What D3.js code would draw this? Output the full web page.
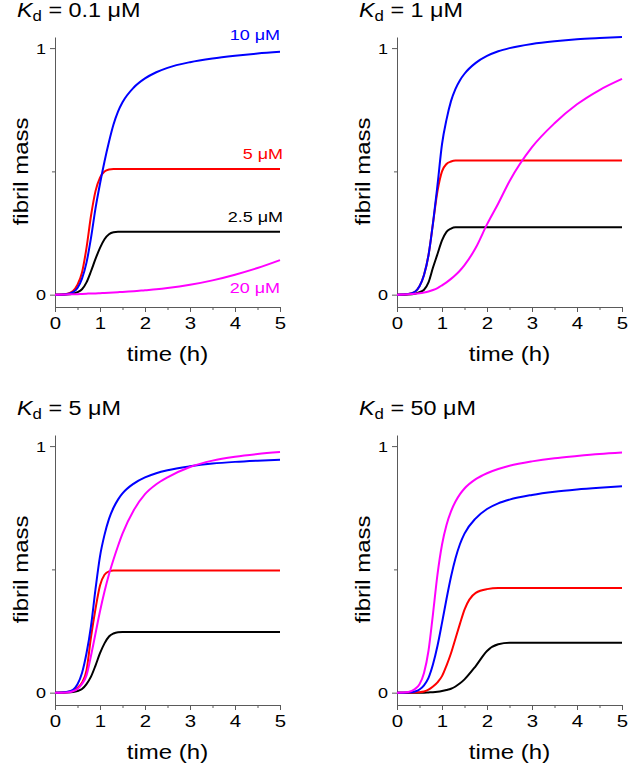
<!DOCTYPE html>
<html>
<head>
<meta charset="utf-8">
<script src="https://cdn.jsdelivr.net/npm/d3@7/dist/d3.min.js"></script>
<style>
  html, body { margin: 0; padding: 0; background: #fff; }
  svg { display: block; }
  text { font-family: "Liberation Sans", Arial, sans-serif; }
</style>
</head>
<body>
<svg id="chart" width="628" height="769"></svg>
<script>
// ---------------- data ----------------
const times = [0, 0.25, 0.4, 0.5, 0.6, 0.7, 0.8, 0.9, 1.0, 1.1, 1.2, 1.3, 1.4, 1.5, 1.75, 2, 2.25, 2.5, 3, 3.5, 4, 4.5, 5];

const concLabels = ["2.5 \u03BCM", "5 \u03BCM", "10 \u03BCM", "20 \u03BCM"];
const seriesColors = ["#000000", "#ff0000", "#0000ff", "#ff00ff"];
const kdTitles = ["0.1", "1", "5", "50"];

const xTicks = [0, 1, 2, 3, 4, 5];
const xMinorTicks = [0.5, 1.5, 2.5, 3.5, 4.5];
const yTicks = [0, 1];
const yMinorTicks = [0.5];

// Kd = 0.1 uM
const blackA = [0, 0.001, 0.004, 0.01, 0.022, 0.05, 0.095, 0.145, 0.19, 0.225, 0.245, 0.253, 0.255, 0.255, 0.255, 0.255, 0.255, 0.255, 0.255, 0.255, 0.255, 0.255, 0.255];
const redA   = [0, 0.003, 0.015, 0.04, 0.09, 0.19, 0.32, 0.42, 0.475, 0.5, 0.508, 0.51, 0.51, 0.51, 0.51, 0.51, 0.51, 0.51, 0.51, 0.51, 0.51, 0.51, 0.51];
const blueA  = [0, 0.002, 0.01, 0.027, 0.065, 0.13, 0.23, 0.35, 0.45, 0.54, 0.62, 0.69, 0.742, 0.78, 0.84, 0.877, 0.902, 0.92, 0.943, 0.958, 0.969, 0.978, 0.985];
const magA   = [0, 0.001, 0.002, 0.002, 0.003, 0.004, 0.005, 0.005, 0.006, 0.007, 0.008, 0.009, 0.01, 0.011, 0.014, 0.018, 0.022, 0.027, 0.04, 0.058, 0.081, 0.108, 0.14];

// Kd = 1 uM
const blackB = [0, 0.001, 0.004, 0.01, 0.02, 0.05, 0.11, 0.165, 0.22, 0.255, 0.268, 0.273, 0.273, 0.273, 0.273, 0.273, 0.273, 0.273, 0.273, 0.273, 0.273, 0.273, 0.273];
const redB   = [0, 0.003, 0.012, 0.034, 0.08, 0.16, 0.29, 0.42, 0.5, 0.53, 0.54, 0.544, 0.544, 0.544, 0.544, 0.544, 0.544, 0.544, 0.544, 0.544, 0.544, 0.544, 0.544];
const blueB  = [0, 0.003, 0.012, 0.034, 0.08, 0.16, 0.29, 0.445, 0.61, 0.71, 0.785, 0.835, 0.87, 0.896, 0.94, 0.968, 0.987, 1.0, 1.017, 1.028, 1.036, 1.041, 1.045];
const magB   = [0, 0.002, 0.004, 0.006, 0.009, 0.013, 0.019, 0.027, 0.038, 0.05, 0.064, 0.08, 0.098, 0.12, 0.19, 0.285, 0.37, 0.46, 0.598, 0.695, 0.772, 0.83, 0.875];

// Kd = 5 uM
const blackC = [0, 0.001, 0.003, 0.007, 0.015, 0.035, 0.065, 0.11, 0.16, 0.2, 0.228, 0.24, 0.245, 0.246, 0.246, 0.246, 0.246, 0.246, 0.246, 0.246, 0.246, 0.246, 0.246];
const redC   = [0, 0.002, 0.008, 0.02, 0.04, 0.09, 0.225, 0.34, 0.435, 0.478, 0.492, 0.495, 0.495, 0.495, 0.495, 0.495, 0.495, 0.495, 0.495, 0.495, 0.495, 0.495, 0.495];
const blueC  = [0, 0.003, 0.012, 0.034, 0.08, 0.16, 0.27, 0.42, 0.553, 0.64, 0.705, 0.75, 0.783, 0.808, 0.848, 0.873, 0.89, 0.902, 0.918, 0.929, 0.936, 0.941, 0.945];
const magC   = [0, 0.001, 0.006, 0.015, 0.035, 0.07, 0.15, 0.24, 0.33, 0.41, 0.48, 0.54, 0.595, 0.645, 0.74, 0.805, 0.845, 0.873, 0.915, 0.941, 0.957, 0.968, 0.976];

// Kd = 50 uM
const blackD = [0, 0, 0, 0, 0, 0.001, 0.002, 0.004, 0.007, 0.011, 0.016, 0.025, 0.038, 0.054, 0.108, 0.169, 0.196, 0.202, 0.202, 0.202, 0.202, 0.202, 0.202];
const redD   = [0, 0, 0.001, 0.002, 0.005, 0.012, 0.025, 0.042, 0.067, 0.11, 0.16, 0.22, 0.28, 0.337, 0.405, 0.42, 0.424, 0.424, 0.424, 0.424, 0.424, 0.424, 0.424];
const blueD  = [0, 0.001, 0.005, 0.013, 0.03, 0.06, 0.115, 0.19, 0.283, 0.38, 0.47, 0.545, 0.603, 0.645, 0.707, 0.745, 0.768, 0.783, 0.802, 0.815, 0.824, 0.831, 0.837];
const magD   = [0, 0.003, 0.015, 0.034, 0.08, 0.17, 0.32, 0.48, 0.6, 0.68, 0.735, 0.775, 0.805, 0.828, 0.866, 0.89, 0.907, 0.92, 0.938, 0.951, 0.96, 0.968, 0.974];

const panelSeries = [
  [blackA, redA, blueA, magA],
  [blackB, redB, blueB, magB],
  [blackC, redC, blueC, magC],
  [blackD, redD, blueD, magD]
];

// ---------------- layout ----------------
const SX = 1.2;            // horizontal stretch of the typeface
const axisColor = "#5a5a5a";
const panelPos = [
  {x0: 55, y0: 0},
  {x0: 397, y0: 0},
  {x0: 55, y0: 398},
  {x0: 397, y0: 398}
];
const plotW = 225, axisTop = 37, axisBottom = 307;

const svg = d3.select("#chart");

function sText(parent, x, y, str, o = {}) {
  const g = parent.append("g")
    .attr("transform", `translate(${x},${y})` + (o.rotate ? ` rotate(${o.rotate})` : "") + ` scale(${SX},1)`);
  const t = g.append("text")
    .attr("x", 0).attr("y", 0)
    .attr("text-anchor", o.anchor || "start")
    .attr("font-size", o.size || 16)
    .attr("fill", o.color || "#000");
  if (str !== null) t.text(str);
  return t;
}

panelSeries.forEach((series, pi) => {
  const p = panelPos[pi];
  const g = svg.append("g").attr("transform", `translate(0,${p.y0})`);

  const x = d3.scaleLinear().domain([0, 5]).range([p.x0, p.x0 + plotW]);
  const y = d3.scaleLinear().domain([-0.05, 1.045]).range([axisBottom, axisTop]);

  // x axis
  const xAx = g.append("g").attr("transform", `translate(0,${axisBottom})`)
    .call(d3.axisBottom(x).tickValues(xTicks).tickSize(5).tickSizeOuter(0).tickFormat(d3.format("d")));
  g.append("g").attr("transform", `translate(0,${axisBottom})`)
    .call(d3.axisBottom(x).tickValues(xMinorTicks).tickSize(3).tickSizeOuter(0).tickFormat(""))
    .select(".domain").remove();

  // y axis
  const yAx = g.append("g").attr("transform", `translate(${p.x0},0)`)
    .call(d3.axisLeft(y).tickValues(yTicks).tickSize(5).tickSizeOuter(0).tickFormat(d3.format("d")));
  g.append("g").attr("transform", `translate(${p.x0},0)`)
    .call(d3.axisLeft(y).tickValues(yMinorTicks).tickSize(3).tickSizeOuter(0).tickFormat(""))
    .select(".domain").remove();

  g.selectAll(".domain, .tick line").attr("stroke", axisColor).attr("stroke-width", 1);
  xAx.selectAll(".tick text")
    .attr("font-family", "Liberation Sans, Arial, sans-serif")
    .attr("font-size", 17).attr("fill", "#000")
    .attr("y", 10).attr("dy", "0.71em")
    .attr("transform", `scale(${SX},1)`);
  yAx.selectAll(".tick text")
    .attr("font-family", "Liberation Sans, Arial, sans-serif")
    .attr("font-size", 15).attr("fill", "#000")
    .attr("x", -9 / SX).attr("dy", "0.35em")
    .attr("transform", `scale(${SX},1)`);

  // lines
  const line = d3.line()
    .x((d, i) => x(times[i]))
    .y(d => y(d))
    .curve(d3.curveMonotoneX);
  series.forEach((vals, si) => {
    g.append("path")
      .attr("d", line(vals))
      .attr("fill", "none")
      .attr("stroke", seriesColors[si])
      .attr("stroke-width", 2)
      .attr("stroke-linejoin", "round");
  });

  // axis titles
  sText(g, p.x0 + plotW / 2, 361, "time (h)", {anchor: "middle", size: 20});
  sText(g, p.x0 - 27, (y(0) + y(1)) / 2, "fibril mass", {anchor: "middle", size: 20, rotate: -90});

  // panel title  K_d = ... uM
  const tt = sText(g, p.x0 - 38, 17, null, {size: 19.5});
  tt.append("tspan").attr("font-style", "italic").text("K");
  tt.append("tspan").attr("font-size", 14).attr("dy", 4).text("d");
  tt.append("tspan").attr("dy", -4).text(" = " + kdTitles[pi] + " \u03BCM");
});

// series labels (first panel)
const labelBaselines = [222, 159, 40, 293];
const labelRight = [283, 283, 280, 280];
concLabels.forEach((lab, i) => {
  sText(svg, labelRight[i], labelBaselines[i], lab, {anchor: "end", size: 15, color: seriesColors[i]});
});
</script>
</body>
</html>
